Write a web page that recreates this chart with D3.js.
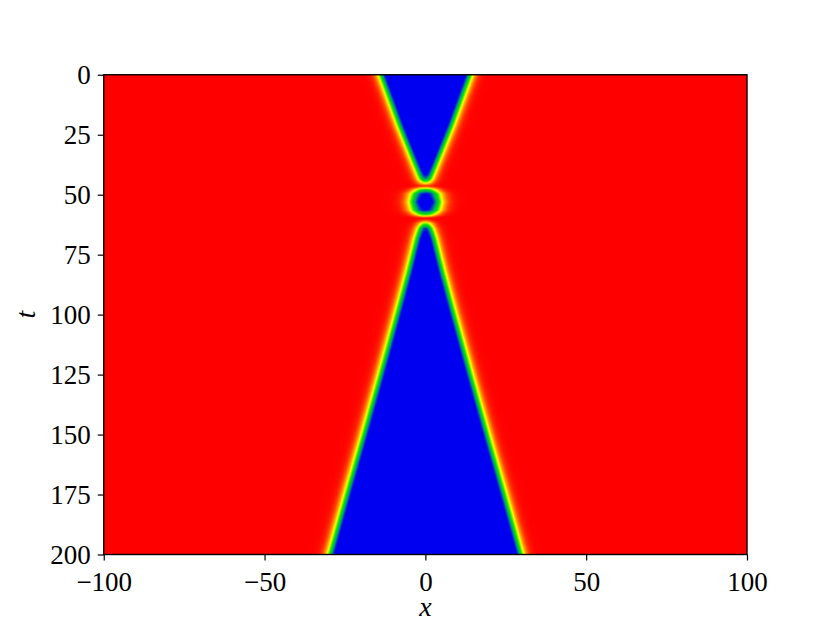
<!DOCTYPE html>
<html>
<head>
<meta charset="utf-8">
<script src="https://cdn.jsdelivr.net/npm/d3@7"></script>
<style>
  body { margin: 0; background: #fff; }
  svg { display: block; }
</style>
</head>
<body>
<svg id="chart"></svg>
<script>
// axis ticks
const xTicks = [-100, -50, 0, 50, 100];
const tTicks = [0, 25, 50, 75, 100, 125, 150, 175, 200];

// front trajectory (half width of the blue region, in x units)
const tKnots  = [0,    21,  35.5, 42,  43.5, 44.5, 45.5, 46.3, 47,  47.8, 49.5, 53,  56.5, 58.3, 59.1, 59.8, 60.6, 62,  64,  68,  75,  82,  100, 125,  150,  175,  200];
const frontX  = [14.2, 8.5, 4.15, 2.2, 1.8,  1.5,  1.4,  1.6,  2.2,  2.8, 4.0,  4.5, 4.0,  2.8, 2.2,  1.4,  0.9,  1.4, 2.0, 3.0, 4.3, 5.6, 9.2, 14.3, 19.5, 24.8, 30];
// peak value of the field between the fronts (1 = blue, 0 = red)
const coreAmp = [1,    1,   1,    1,   0.94, 0.72, 0.4,  0.05, 0.32, 0.68, 0.92, 1.0, 0.92, 0.68, 0.32, 0,    0.15, 0.7, 1,   1,   1,   1,   1,   1,    1,    1,    1];
// width of each front
const edgeW   = [1.85, 1.85, 1.85, 1.85, 1.85, 1.85, 1.9, 2.1,  2.4,  2.5, 2.5,  2.5, 2.5,  2.5, 2.4,  2.1,  1.9,  1.85, 1.85, 1.85, 1.85, 1.85, 1.85, 1.85, 1.85, 1.85, 1.85];

// colour map (red -> yellow -> green -> blue)
const colourStops  = [0, 0.16, 0.34, 0.55, 0.72, 0.86, 1];
const colourValues = ["#ff0000", "#ff8000", "#ffff00", "#00ea00", "#00a070", "#0000f0", "#0000f0"];

const width = 830;
const height = 623;
const margin = { top: 74.76, right: 83, bottom: 68.5, left: 103.75 };
const innerWidth = width - margin.left - margin.right;
const innerHeight = height - margin.top - margin.bottom;

const svg = d3.select("#chart").attr("width", width).attr("height", height);

const xScale = d3.scaleLinear().domain([-100, 100]).range([0, innerWidth]);
const yScale = d3.scaleLinear().domain([0, 200]).range([0, innerHeight]);

const frontScale = d3.scaleLinear().domain(tKnots).range(frontX).clamp(true);
const ampScale = d3.scaleLinear().domain(tKnots).range(coreAmp).clamp(true);
const widthScale = d3.scaleLinear().domain(tKnots).range(edgeW).clamp(true);
const colour = d3.scaleLinear().domain(colourStops).range(colourValues).clamp(true);

const step = (z) => 0.5 * (1 + Math.tanh(z));

// paint the field on a canvas, then put it in the svg
const cw = Math.round(innerWidth);
const ch = Math.round(innerHeight);
const canvas = document.createElement("canvas");
canvas.width = cw;
canvas.height = ch;
const ctx = canvas.getContext("2d");
const img = ctx.createImageData(cw, ch);

for (let py = 0; py < ch; py++) {
  const t = yScale.invert(py + 0.5);
  const a = frontScale(t);
  const amp = ampScale(t);
  const w = widthScale(t);
  for (let px = 0; px < cw; px++) {
    const x = xScale.invert(px + 0.5);
    const u = amp * step((x + a) / w) * step((a - x) / w);
    const c = d3.rgb(colour(u));
    const k = (py * cw + px) * 4;
    img.data[k] = c.r;
    img.data[k + 1] = c.g;
    img.data[k + 2] = c.b;
    img.data[k + 3] = 255;
  }
}
ctx.putImageData(img, 0, 0);

const g = svg.append("g").attr("transform", `translate(${margin.left},${margin.top})`);

g.append("image")
  .attr("href", canvas.toDataURL())
  .attr("x", 0)
  .attr("y", 0)
  .attr("width", innerWidth)
  .attr("height", innerHeight)
  .attr("preserveAspectRatio", "none");

const font = "'Liberation Serif', 'DejaVu Serif', serif";

const xAxis = d3.axisBottom(xScale).tickValues(xTicks).tickSize(6).tickPadding(8);
const yAxis = d3.axisLeft(yScale).tickValues(tTicks).tickSize(6).tickPadding(7);

const xAxisG = g.append("g").attr("transform", `translate(0,${innerHeight})`).call(xAxis);
const yAxisG = g.append("g").call(yAxis);

[xAxisG, yAxisG].forEach((ax) => {
  ax.selectAll(".domain").remove();
  ax.selectAll(".tick line").attr("stroke", "#000").attr("stroke-width", 1.2);
  ax.selectAll(".tick text")
    .attr("fill", "#000")
    .style("font-family", font)
    .style("font-size", "27px");
});
xAxisG.selectAll(".tick text").attr("dy", "0.71em").attr("y", 17);
yAxisG.selectAll(".tick text").attr("dy", "0.33em");

// frame
g.append("rect")
  .attr("width", innerWidth)
  .attr("height", innerHeight)
  .attr("fill", "none")
  .attr("stroke", "#000")
  .attr("stroke-width", 1.4);

// axis labels
svg.append("text")
  .attr("x", margin.left + innerWidth / 2)
  .attr("y", 616)
  .attr("text-anchor", "middle")
  .style("font-family", font)
  .style("font-style", "italic")
  .style("font-size", "28px")
  .text("x");

svg.append("text")
  .attr("transform", `translate(35,${margin.top + innerHeight / 2}) rotate(-90)`)
  .attr("text-anchor", "middle")
  .style("font-family", font)
  .style("font-style", "italic")
  .style("font-size", "28px")
  .text("t");
</script>
</body>
</html>
